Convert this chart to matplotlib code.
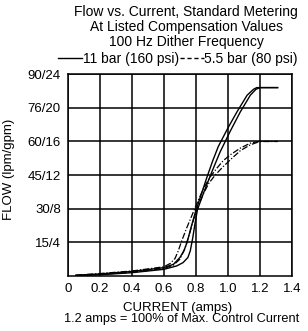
import numpy as np
import matplotlib
matplotlib.use("Agg")
import matplotlib.pyplot as plt
from matplotlib.lines import Line2D

plt.rcParams['font.family'] = ['Liberation Sans', 'DejaVu Sans']

# 11 bar (160 psi) - two hysteresis branches, current in amps, flow in gpm
hi_up_x = [0.05, 0.2, 0.4, 0.6, 0.66, 0.70, 0.725, 0.745, 0.77, 0.80, 0.835, 0.87, 0.905, 0.94, 1.0, 1.056, 1.12, 1.16, 1.18, 1.31]
hi_up_y = [0.1, 0.25, 0.55, 1.0, 1.4, 2.2, 3.0, 4.0, 5.8, 7.8, 9.8, 11.8, 13.7, 15.4, 17.6, 19.5, 21.5, 22.2, 22.4, 22.4]
hi_dn_x = [0.05, 0.2, 0.4, 0.6, 0.68, 0.72, 0.75, 0.765, 0.78, 0.795, 0.81, 0.85, 0.90, 0.95, 1.014, 1.077, 1.14, 1.175, 1.20, 1.31]
hi_dn_y = [0.05, 0.15, 0.4, 0.8, 1.2, 1.6, 2.2, 3.0, 4.5, 6.3, 7.9, 10.0, 12.4, 14.7, 17.2, 19.5, 21.5, 22.2, 22.4, 22.4]

# 5.5 bar (80 psi)
lo_up_x = [0.05, 0.2, 0.4, 0.6, 0.64, 0.67, 0.69, 0.71, 0.74, 0.775, 0.81, 0.85, 0.89, 0.93, 0.97, 1.014, 1.077, 1.14, 1.18, 1.20, 1.31]
lo_up_y = [0.1, 0.3, 0.6, 1.1, 1.5, 2.1, 3.0, 4.1, 5.6, 7.2, 8.8, 10.5, 11.8, 12.8, 13.7, 14.4, 15.2, 15.8, 15.95, 16.0, 16.0]
lo_dn_x = [0.05, 0.2, 0.4, 0.6, 0.66, 0.70, 0.73, 0.76, 0.79, 0.82, 0.85, 0.88, 0.92, 0.97, 1.014, 1.077, 1.14, 1.20, 1.31]
lo_dn_y = [0.05, 0.2, 0.45, 0.9, 1.3, 2.0, 3.2, 5.0, 7.0, 8.6, 9.9, 11.0, 12.0, 13.0, 13.8, 14.9, 15.6, 16.0, 16.0]

x_ticks = [0, 0.2, 0.4, 0.6, 0.8, 1.0, 1.2, 1.4]
x_labels = ['0', '0.2', '0.4', '0.6', '0.8', '1.0', '1.2', '1.4']
y_ticks = [4, 8, 12, 16, 20, 24]
y_labels = ['15/4', '30/8', '45/12', '60/16', '76/20', '90/24']

fs = 10
fig = plt.figure(figsize=(3.08, 3.31), dpi=100)
ax = fig.add_axes([0.22, 0.166, 0.728, 0.61])

dashdot = (0, (5, 1.5, 1, 1.5))
ax.plot(hi_up_x, hi_up_y, color='black', lw=1.0)
ax.plot(hi_dn_x, hi_dn_y, color='black', lw=1.0)
ax.plot(lo_up_x, lo_up_y, color='black', lw=0.9, ls=dashdot)
ax.plot(lo_dn_x, lo_dn_y, color='black', lw=0.9, ls=dashdot)

ax.set_xlim(0, 1.4)
ax.set_ylim(0, 24)
ax.set_xticks(x_ticks)
ax.set_xticklabels(x_labels)
ax.set_yticks(y_ticks)
ax.set_yticklabels(y_labels)
ax.tick_params(length=0, labelsize=9.5, pad=5)
ax.grid(True, color='black', lw=1.1)
for s in ax.spines.values():
    s.set_linewidth(1.1)

ax.set_xlabel('CURRENT (amps)', fontsize=9.5)
ax.xaxis.set_label_coords(0.49, -0.13)
ax.set_ylabel('FLOW (lpm/gpm)', fontsize=9.5)
ax.yaxis.set_label_coords(-0.235, 0.53)

fig.text(0.59, 0.036, '1.2 amps = 100% of Max. Control Current', ha='center', va='center', fontsize=9.2)
fig.text(0.605, 0.963, 'Flow vs. Current, Standard Metering', ha='center', va='center', fontsize=fs)
fig.text(0.605, 0.918, 'At Listed Compensation Values', ha='center', va='center', fontsize=fs)
fig.text(0.605, 0.873, '100 Hz Dither Frequency', ha='center', va='center', fontsize=fs)

handles = [Line2D([], [], color='black', lw=1.0),
           Line2D([], [], color='black', lw=1.0, ls=(0, (3, 2)))]
fig.legend(handles, ['11 bar (160 psi)', '5.5 bar (80 psi)'], loc='center',
           bbox_to_anchor=(0.578, 0.822), ncol=2, frameon=False, fontsize=fs,
           handlelength=1.7, handletextpad=0.05, columnspacing=0.1, borderpad=0)

fig.savefig('out.png', dpi=100)
